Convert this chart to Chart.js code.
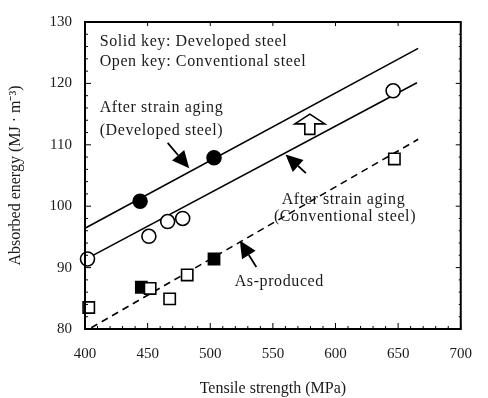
<!DOCTYPE html>
<html>
<head>
<meta charset="utf-8">
<script src="https://cdn.jsdelivr.net/npm/chart.js@4.4.1/dist/chart.umd.min.js"></script>
<style>
  html, body { margin: 0; padding: 0; background: #fff; }
  #wrap { width: 488px; height: 398px; position: relative; }
</style>
</head>
<body>
<div id="wrap"><canvas id="c" width="488" height="398"></canvas></div>
<script>
// ---- data (tensile strength MPa, absorbed energy MJ/m^3) ----
const developedAgedX = [444, 503];
const developedAgedY = [100.8, 107.9];
const conventionalAgedX = [402, 451, 466, 478, 646];
const conventionalAgedY = [91.4, 95.1, 97.5, 98.0, 118.8];
const conventionalAsProducedX = [403, 452, 467.6, 481.6, 647];
const conventionalAsProducedY = [83.5, 86.6, 84.9, 88.8, 107.7];
const developedAsProducedX = [445, 503];
const developedAsProducedY = [86.8, 91.4];

// trend lines (end points)
const lineDevelopedAgedX = [400, 666];
const lineDevelopedAgedY = [96.4, 125.7];
const lineConventionalAgedX = [400, 665];
const lineConventionalAgedY = [91.3, 120.1];
const lineAsProducedX = [405, 666];
const lineAsProducedY = [80.2, 110.9];

const xTicks = [400, 450, 500, 550, 600, 650, 700];
const yTicks = [80, 90, 100, 110, 120, 130];

// annotation texts (anchored in data coordinates)
const notes = [
  { text: 'Solid key: Developed steel', x: 411.7, y: 126.8 },
  { text: 'Open key: Conventional steel', x: 411.7, y: 123.5 },
  { text: 'After strain aging', x: 411.7, y: 116.1 },
  { text: '(Developed steel)', x: 411.7, y: 112.2 },
  { text: 'After strain aging', x: 557, y: 101.0 },
  { text: '(Conventional steel)', x: 550.8, y: 98.3 },
  { text: 'As-produced', x: 519.5, y: 87.7 }
];
const arrows = [
  { x1: 466, y1: 110.3, x2: 483.2, y2: 106.2 },
  { x1: 576.4, y1: 105.4, x2: 560.1, y2: 108.4 },
  { x1: 536.8, y1: 90.1, x2: 523.6, y2: 94.4 }
];
const upArrow = { x: 579.5, yTip: 115.0, yBase: 111.7 };

const zip = (xs, ys) => xs.map((x, i) => ({ x: x, y: ys[i] }));
const FONT = '"Liberation Serif", "Times New Roman", serif';
const TEXT = '#1a1a1a';

const framePlugin = {
  id: 'frame',
  afterDraw(chart) {
    const ctx = chart.ctx;
    const a = chart.chartArea;
    const xs = chart.scales.x, ys = chart.scales.y;
    ctx.save();
    ctx.strokeStyle = '#000';
    ctx.lineWidth = 2;
    ctx.strokeRect(a.left, a.top, a.right - a.left, a.bottom - a.top);
    ctx.lineWidth = 1;
    ctx.beginPath();
    for (let v = 400; v <= 700; v += 10) {
      const p = xs.getPixelForValue(v);
      const major = v % 50 === 0;
      ctx.moveTo(p, a.bottom); ctx.lineTo(p, a.bottom - (major ? 6 : 3));
      if (major) { ctx.moveTo(p, a.top); ctx.lineTo(p, a.top + 4); }
    }
    for (let v = 80; v <= 130; v += 2) {
      const p = ys.getPixelForValue(v);
      const major = v % 10 === 0;
      ctx.moveTo(a.left, p); ctx.lineTo(a.left + (major ? 6 : 3), p);
      ctx.moveTo(a.right, p); ctx.lineTo(a.right - (major ? 5 : 2), p);
    }
    ctx.stroke();

    // texts
    ctx.fillStyle = TEXT;
    ctx.font = '16px ' + FONT;
    if ('letterSpacing' in ctx) ctx.letterSpacing = '0.6px';
    ctx.textBaseline = 'middle';
    ctx.textAlign = 'left';
    notes.forEach(n => ctx.fillText(n.text, xs.getPixelForValue(n.x), ys.getPixelForValue(n.y)));
    if ('letterSpacing' in ctx) ctx.letterSpacing = '0px';

    // filled arrows
    arrows.forEach(ar => {
      const x1 = xs.getPixelForValue(ar.x1), y1 = ys.getPixelForValue(ar.y1);
      const x2 = xs.getPixelForValue(ar.x2), y2 = ys.getPixelForValue(ar.y2);
      const ang = Math.atan2(y2 - y1, x2 - x1);
      const hl = 17, hw = 8;
      const bx = x2 - hl * Math.cos(ang), by = y2 - hl * Math.sin(ang);
      ctx.beginPath();
      ctx.lineWidth = 1.8;
      ctx.strokeStyle = '#000';
      ctx.moveTo(x1, y1); ctx.lineTo(bx, by); ctx.stroke();
      ctx.beginPath();
      ctx.moveTo(x2, y2);
      ctx.lineTo(bx + hw * Math.sin(ang), by - hw * Math.cos(ang));
      ctx.lineTo(bx - hw * Math.sin(ang), by + hw * Math.cos(ang));
      ctx.closePath();
      ctx.fillStyle = '#000';
      ctx.fill();
    });

    // hollow up arrow
    const ux = xs.getPixelForValue(upArrow.x);
    const ut = ys.getPixelForValue(upArrow.yTip);
    const ub = ys.getPixelForValue(upArrow.yBase);
    const hb = ut + (ub - ut) * 0.48;
    ctx.beginPath();
    ctx.moveTo(ux, ut);
    ctx.lineTo(ux + 15, hb);
    ctx.lineTo(ux + 5, hb);
    ctx.lineTo(ux + 5, ub);
    ctx.lineTo(ux - 5, ub);
    ctx.lineTo(ux - 5, hb);
    ctx.lineTo(ux - 15, hb);
    ctx.closePath();
    ctx.fillStyle = '#fff';
    ctx.fill();
    ctx.lineWidth = 1.6;
    ctx.stroke();
    ctx.restore();
  }
};

const lineStyle = { showLine: true, pointRadius: 0, borderColor: '#000', borderWidth: 1.6, fill: false, order: 2 };

new Chart(document.getElementById('c'), {
  type: 'scatter',
  data: {
    datasets: [
      Object.assign({ label: 'line dev aged', data: zip(lineDevelopedAgedX, lineDevelopedAgedY) }, lineStyle),
      Object.assign({ label: 'line conv aged', data: zip(lineConventionalAgedX, lineConventionalAgedY) }, lineStyle),
      Object.assign({ label: 'line as-produced', data: zip(lineAsProducedX, lineAsProducedY) }, lineStyle, { borderDash: [7, 5] }),
      { label: 'Developed, after strain aging', data: zip(developedAgedX, developedAgedY), pointStyle: 'circle', pointRadius: 7, backgroundColor: '#000', borderColor: '#000', borderWidth: 1.5, order: 0 },
      { label: 'Conventional, after strain aging', data: zip(conventionalAgedX, conventionalAgedY), pointStyle: 'circle', pointRadius: 7, backgroundColor: '#fff', borderColor: '#000', borderWidth: 1.6, order: 0 },
      { label: 'Conventional, as-produced', data: zip(conventionalAsProducedX, conventionalAsProducedY), pointStyle: 'rect', pointRadius: 8, backgroundColor: '#fff', borderColor: '#000', borderWidth: 1.6, order: 0 },
      { label: 'Developed, as-produced', data: zip(developedAsProducedX, developedAsProducedY), pointStyle: 'rect', pointRadius: 8, backgroundColor: '#000', borderColor: '#000', borderWidth: 1.5, order: 0 }
    ]
  },
  options: {
    responsive: false,
    animation: false,
    clip: false,
    layout: { padding: { top: 12, right: 17, left: 0, bottom: 0 } },
    plugins: { legend: { display: false }, tooltip: { enabled: false } },
    scales: {
      x: {
        type: 'linear', min: 400, max: 700,
        afterBuildTicks: s => { s.ticks = xTicks.map(v => ({ value: v })); },
        afterFit: s => { s.height = 69; },
        grid: { display: false, drawTicks: false },
        border: { display: false },
        ticks: { padding: 16, color: TEXT, font: { family: FONT, size: 15 } },
        title: { display: true, text: 'Tensile strength (MPa)', color: TEXT, font: { family: FONT, size: 16 }, padding: { top: 0, bottom: 0 } }
      },
      y: {
        type: 'linear', min: 80, max: 130,
        afterBuildTicks: s => { s.ticks = yTicks.map(v => ({ value: v })); },
        afterFit: s => { s.width = 85; },
        grid: { display: false, drawTicks: false },
        border: { display: false },
        ticks: { padding: 13, color: TEXT, font: { family: FONT, size: 15 } },
        title: { display: true, text: 'Absorbed energy (MJ · m⁻³)', color: TEXT, font: { family: FONT, size: 16 }, padding: { top: 6, bottom: 0 } }
      }
    }
  },
  plugins: [framePlugin]
});
</script>
</body>
</html>
